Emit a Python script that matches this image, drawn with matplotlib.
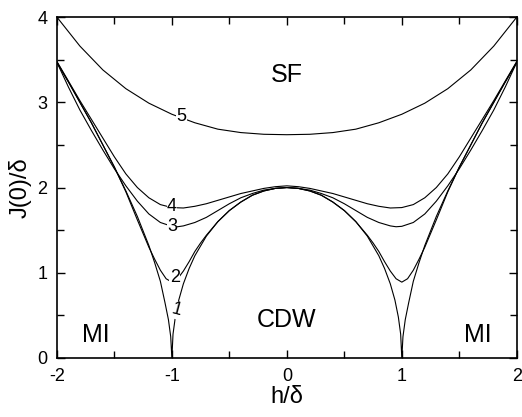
import numpy as np
import matplotlib
matplotlib.use("Agg")
import matplotlib.pyplot as plt

plt.rcParams['font.family'] = ['Liberation Sans', 'DejaVu Sans']
plt.rcParams['axes.unicode_minus'] = False

# Right half (h >= 0) readings; curves are symmetric about h = 0
h1 = [0.0, 0.1, 0.2, 0.3, 0.4, 0.5, 0.6, 0.7, 0.8, 0.85, 0.9, 0.94, 0.97, 0.99, 1.0,
      1.01, 1.03, 1.06, 1.1, 1.15, 1.2, 1.3, 1.4, 1.5, 1.6, 1.7, 1.8, 1.9, 2.0]
j1 = [2.0, 1.99, 1.96, 1.91, 1.83, 1.73, 1.6, 1.43, 1.2, 1.05, 0.87, 0.68, 0.48, 0.28, 0.0,
      0.25, 0.45, 0.65, 0.9, 1.12, 1.32, 1.66, 1.96, 2.24, 2.5, 2.76, 3.0, 3.24, 3.47]

h2 = [0.0, 0.1, 0.2, 0.3, 0.4, 0.5, 0.6, 0.7, 0.75, 0.8, 0.85, 0.9, 0.95, 1.0,
      1.05, 1.1, 1.15, 1.2, 1.25, 1.3, 1.4, 1.5, 1.6, 1.7, 1.8, 1.9, 2.0]
j2 = [2.0, 1.99, 1.96, 1.91, 1.83, 1.73, 1.6, 1.44, 1.35, 1.25, 1.13, 1.02, 0.93, 0.89,
      0.93, 1.03, 1.16, 1.3, 1.46, 1.62, 1.95, 2.24, 2.5, 2.76, 3.0, 3.24, 3.47]

h3 = [0.0, 0.1, 0.2, 0.3, 0.4, 0.5, 0.6, 0.7, 0.8, 0.9, 0.95, 1.0, 1.1, 1.2, 1.3,
      1.4, 1.5, 1.6, 1.7, 1.8, 1.9, 2.0]
j3 = [2.0, 1.99, 1.97, 1.93, 1.88, 1.81, 1.73, 1.65, 1.59, 1.55, 1.54, 1.545, 1.59, 1.69, 1.84,
      2.02, 2.22, 2.44, 2.67, 2.91, 3.18, 3.47]

h4 = [0.0, 0.1, 0.2, 0.3, 0.4, 0.5, 0.6, 0.7, 0.8, 0.9, 1.0, 1.1, 1.2, 1.3,
      1.4, 1.5, 1.6, 1.7, 1.8, 1.9, 2.0]
j4 = [2.02, 2.01, 1.99, 1.96, 1.93, 1.89, 1.85, 1.81, 1.78, 1.76, 1.765, 1.8, 1.88, 2.0,
      2.16, 2.36, 2.58, 2.8, 3.02, 3.25, 3.48]

h5 = [0.0, 0.2, 0.4, 0.6, 0.8, 1.0, 1.2, 1.4, 1.6, 1.8, 2.0]
j5 = [2.62, 2.625, 2.645, 2.685, 2.76, 2.86, 2.99, 3.16, 3.38, 3.66, 4.0]

curve_labels = ['1', '2', '3', '4', '5']
label_pos = [(-0.96, 0.56), (-0.975, 0.94), (-1.0, 1.54), (-1.0, 1.775), (-0.916, 2.83)]
region_labels = [('SF', 0.0, 3.32), ('MI', -1.66, 0.27), ('CDW', 0.0, 0.45), ('MI', 1.66, 0.27)]

fig = plt.figure(figsize=(5.22, 4.17), dpi=100)
ax = fig.add_axes([0.109, 0.1415, 0.881, 0.8175])

for hs, js in [(h1, j1), (h2, j2), (h3, j3), (h4, j4), (h5, j5)]:
    hs = np.asarray(hs); js = np.asarray(js)
    x = np.concatenate([-hs[::-1], hs[1:]])
    y = np.concatenate([js[::-1], js[1:]])
    ax.plot(x, y, color='black', lw=0.8)

for lab, (x, y) in zip(curve_labels, label_pos):
    rot = -15 if lab == '1' else 0
    ax.text(x, y, lab, fontsize=13, ha='center', va='center', rotation=rot,
            bbox=dict(facecolor='white', edgecolor='none', pad=0.2))

for lab, x, y in region_labels:
    ax.text(x, y, lab, fontsize=18, ha='center', va='center')

ax.set_xlim(-2, 2)
ax.set_ylim(0, 4)
ax.set_xticks([-2, -1, 0, 1, 2])
ax.set_yticks([0, 1, 2, 3, 4])
ax.set_xticks(np.arange(-2, 2.01, 0.5), minor=True)
ax.set_yticks(np.arange(0, 4.01, 0.5), minor=True)
ax.tick_params(which='both', direction='in', top=True, right=True, labelsize=13, width=1.0)
ax.tick_params(which='major', length=6)
ax.tick_params(which='minor', length=5)
ax.tick_params(axis='x', which='major', pad=7)
ax.tick_params(axis='y', which='major', pad=7)
for s in ax.spines.values():
    s.set_linewidth(1.2)
ax.set_xlabel('h/δ', fontsize=17, labelpad=1)
ax.set_ylabel('J(0)/δ', fontsize=17, labelpad=4)

fig.savefig('out.png', dpi=100)
